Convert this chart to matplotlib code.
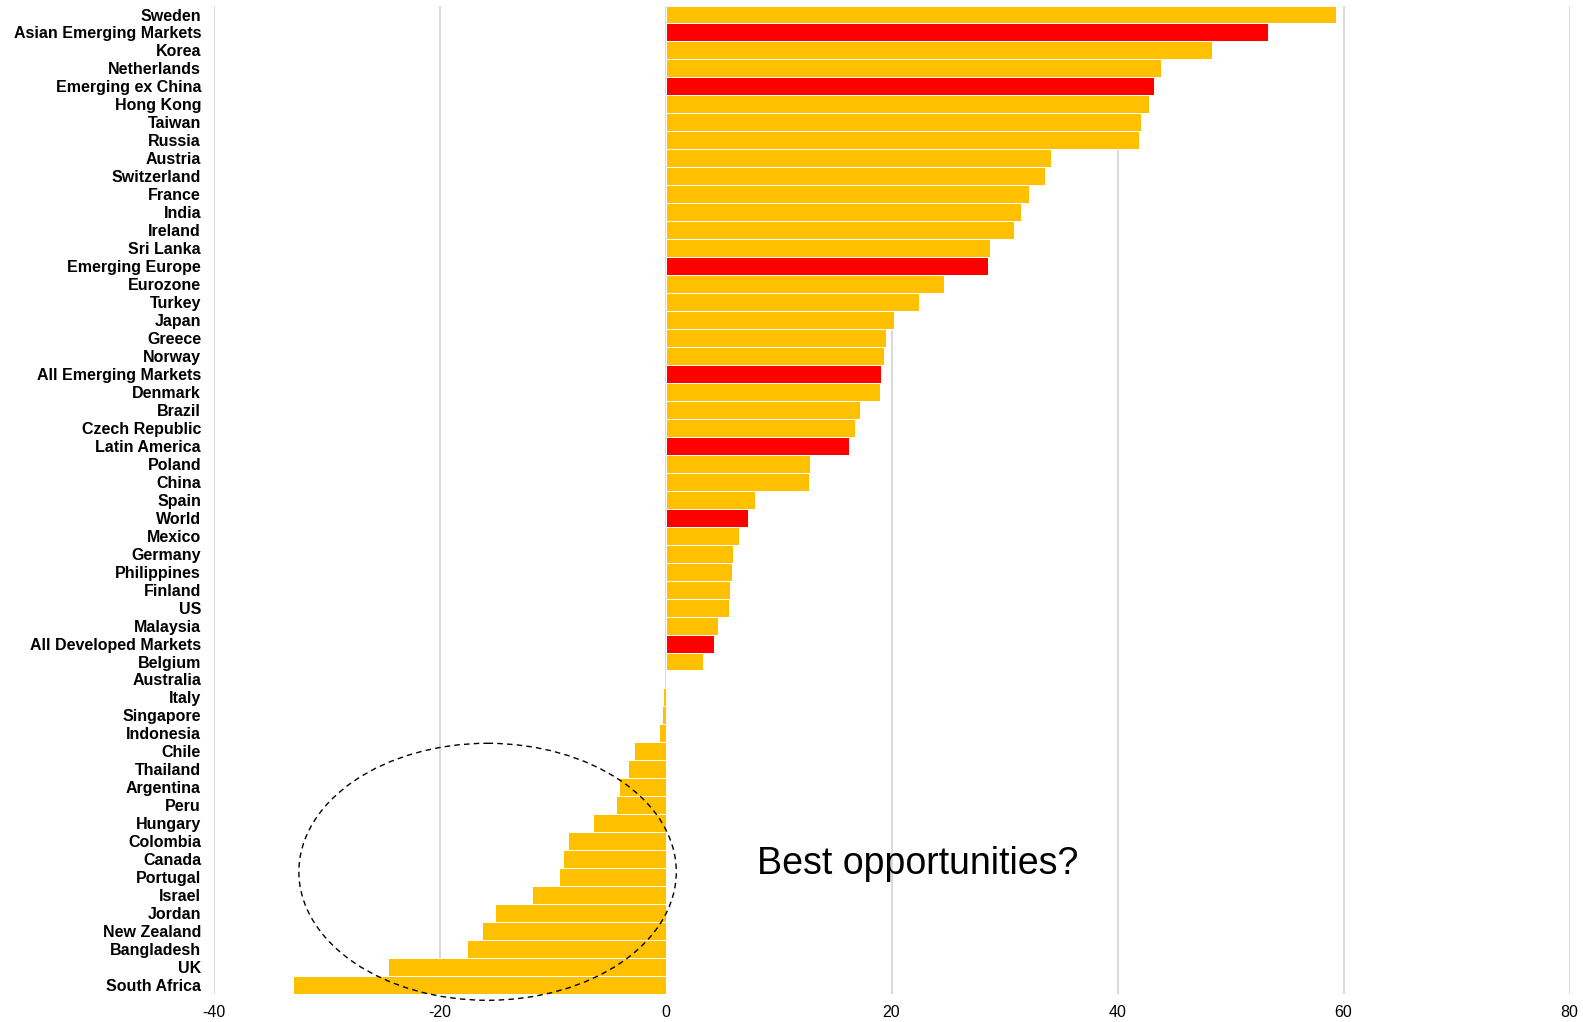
import matplotlib
matplotlib.use("Agg")
import matplotlib.pyplot as plt
from matplotlib.patches import Ellipse

categories = [
    "Sweden", "Asian Emerging Markets", "Korea", "Netherlands", "Emerging ex China",
    "Hong Kong", "Taiwan", "Russia", "Austria", "Switzerland", "France", "India",
    "Ireland", "Sri Lanka", "Emerging Europe", "Eurozone", "Turkey", "Japan", "Greece",
    "Norway", "All Emerging Markets", "Denmark", "Brazil", "Czech Republic",
    "Latin America", "Poland", "China", "Spain", "World", "Mexico", "Germany",
    "Philippines", "Finland", "US", "Malaysia", "All Developed Markets", "Belgium",
    "Australia", "Italy", "Singapore", "Indonesia", "Chile", "Thailand", "Argentina",
    "Peru", "Hungary", "Colombia", "Canada", "Portugal", "Israel", "Jordan",
    "New Zealand", "Bangladesh", "UK", "South Africa",
]
values = [
    59.3, 53.3, 48.4, 43.85, 43.2, 42.8, 42.1, 41.9, 34.1, 33.6, 32.2, 31.5,
    30.8, 28.7, 28.55, 24.6, 22.4, 20.2, 19.5, 19.3, 19.1, 19.0, 17.2, 16.75,
    16.25, 12.8, 12.7, 7.95, 7.3, 6.5, 6.0, 5.9, 5.7, 5.6, 4.6, 4.3, 3.3,
    0.1, -0.25, -0.35, -0.55, -2.75, -3.35, -4.1, -4.35, -6.4, -8.65, -9.1,
    -9.45, -11.8, -15.05, -16.25, -17.6, -24.6, -33.0,
]
aggregates = {"Asian Emerging Markets", "Emerging ex China", "Emerging Europe",
              "All Emerging Markets", "Latin America", "World", "All Developed Markets"}
xticks = [-40, -20, 0, 20, 40, 60, 80]

YELLOW = "#FFC000"
RED = "#FF0000"
colors = [RED if c in aggregates else YELLOW for c in categories]

fig = plt.figure(figsize=(15.83, 10.22), dpi=100)
ax = fig.add_axes([0.1349, 0.0274, 0.8566, 0.9672])

pos = list(range(len(categories)))
ax.barh(pos, values, height=1.0, color=colors, edgecolor="white", linewidth=0.7, zorder=2)

ax.set_xlim(-40, 80)
ax.set_ylim(len(categories) - 0.5, -0.5)
ax.set_xticks(xticks)
ax.set_xticklabels([str(t) for t in xticks], fontsize=11.5, fontfamily="Liberation Sans")
ax.set_yticks(pos)
ax.set_yticklabels(categories, fontsize=11.5, fontweight="bold", fontfamily="Liberation Sans")
ax.tick_params(axis="both", length=0)
ax.tick_params(axis="y", pad=9)
ax.tick_params(axis="x", pad=8)
ax.grid(axis="x", color="#D9D9D9", linewidth=1.4, zorder=1)
ax.grid(axis="y", visible=False)
for s in ax.spines.values():
    s.set_visible(False)

ell = Ellipse((-15.75, 47.7), width=33.4, height=14.3, fill=False,
              edgecolor="black", linestyle=(0, (4, 3)), linewidth=1.0, zorder=4,
              clip_on=False)
ax.add_patch(ell)

ax.text(8.1, 47.85, "Best opportunities?", fontsize=27, fontfamily="Liberation Sans",
        ha="left", va="baseline", zorder=3)

fig.savefig("out.png", dpi=100, facecolor="white")
